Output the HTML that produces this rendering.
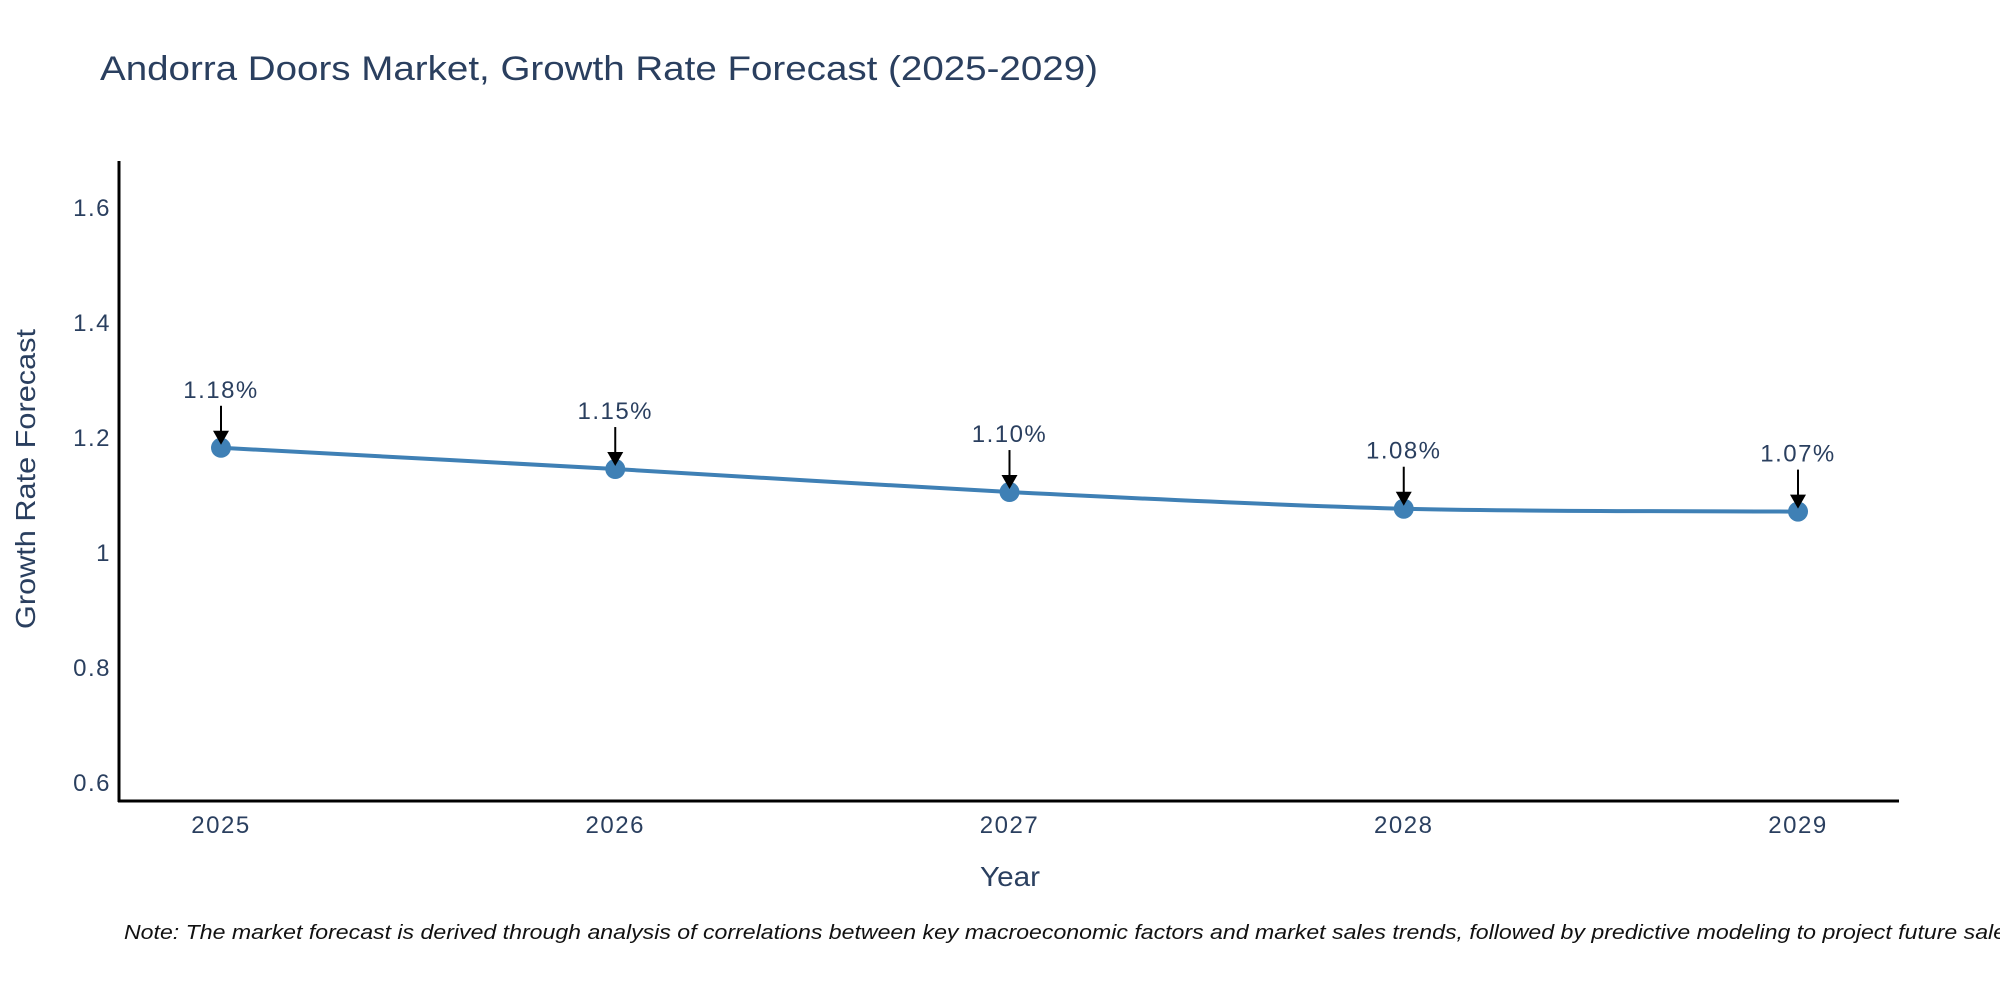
<!DOCTYPE html>
<html><head><meta charset="utf-8"><style>
html,body{margin:0;padding:0;background:#fff;overflow:hidden;}
svg{display:block;font-family:"Liberation Sans",sans-serif;}
</style></head><body>
<svg id="chart" width="2000" height="1000" viewBox="0 0 2000 1000">
<text x="100" y="80" font-size="34" fill="#2a3f5f" textLength="998" lengthAdjust="spacingAndGlyphs">Andorra Doors Market, Growth Rate Forecast (2025-2029)</text>
<g id="yticks"></g>
<g id="xticks"></g>
<g id="series"></g>
<g id="annots"></g>
<line x1="119" y1="161" x2="119" y2="802" stroke="#000" stroke-width="3"/>
<line x1="118" y1="801" x2="1899" y2="801" stroke="#000" stroke-width="3"/>
<text x="1010" y="886" font-size="28" fill="#2a3f5f" text-anchor="middle" textLength="60" lengthAdjust="spacingAndGlyphs">Year</text>
<text transform="translate(35,479) rotate(-90)" font-size="28" fill="#2a3f5f" text-anchor="middle" textLength="300" lengthAdjust="spacingAndGlyphs">Growth Rate Forecast</text>
<text x="124" y="939" font-size="20" font-style="italic" fill="#111" textLength="1900" lengthAdjust="spacingAndGlyphs">Note: The market forecast is derived through analysis of correlations between key macroeconomic factors and market sales trends, followed by predictive modeling to project future sales.</text>
</svg>
<script>
const years = [2025, 2026, 2027, 2028, 2029];
const values = [1.183, 1.146, 1.106, 1.077, 1.072];
const labels = ["1.18%", "1.15%", "1.10%", "1.08%", "1.07%"];
const yTicks = [0.6, 0.8, 1, 1.2, 1.4, 1.6];
const yTickLabels = ["0.6", "0.8", "1", "1.2", "1.4", "1.6"];

const NS = "http://www.w3.org/2000/svg";
function xs(yr){ return 221 + (yr - 2025) * 394.25; }
function ys(v){ return 783 - (v - 0.6) * 575; }
function mk(tag, attrs, parent){
  const e = document.createElementNS(NS, tag);
  for (const k in attrs) e.setAttribute(k, attrs[k]);
  parent.appendChild(e); return e;
}
const yt = document.getElementById('yticks');
yTicks.forEach((v,i)=>{
  const t = mk('text',{x:111,y:ys(v)+8,'font-size':24,'letter-spacing':1.5,fill:'#2a3f5f','text-anchor':'end'},yt);
  
  
  t.textContent = yTickLabels[i];
});
const xt = document.getElementById('xticks');
years.forEach(y=>{
  const t = mk('text',{x:xs(y),y:833,'font-size':24,'letter-spacing':1.5,fill:'#2a3f5f','text-anchor':'middle'},xt);
  
  
  t.textContent = String(y);
});
const s = document.getElementById('series');
const pts = years.map((y,i)=>[xs(y), ys(values[i])]);
let d = 'M' + pts[0][0] + ',' + pts[0][1];
for (let i=1;i<pts.length;i++){
  const p0 = pts[Math.max(0,i-2)], p1 = pts[i-1], p2 = pts[i], p3 = pts[Math.min(pts.length-1,i+1)];
  const k = 0.15;
  const c1x = p1[0] + (p2[0]-p0[0])*k, c1y = p1[1] + (p2[1]-p0[1])*k;
  const c2x = p2[0] - (p3[0]-p1[0])*k, c2y = p2[1] - (p3[1]-p1[1])*k;
  d += ' C' + c1x + ',' + c1y + ' ' + c2x + ',' + c2y + ' ' + p2[0] + ',' + p2[1];
}
const line = mk('path',{d:d,fill:'none',stroke:'#3f80b5','stroke-width':4},s);


pts.forEach(p=>{
  const c = mk('circle',{cx:p[0],cy:p[1],r:10,fill:'#3f80b5'},s);
  
  
});
const a = document.getElementById('annots');
pts.forEach((p,i)=>{
  const ln = mk('line',{x1:p[0],y1:p[1]-42,x2:p[0],y2:p[1]-14,stroke:'#000','stroke-width':2},a);
  
  
  const hd = mk('polygon',{points:(p[0]-8)+','+(p[1]-17)+' '+(p[0]+8)+','+(p[1]-17)+' '+p[0]+','+(p[1]-3),fill:'#000'},a);
  
  
  const t = mk('text',{x:p[0],y:p[1]-50,'font-size':24,'letter-spacing':1.5,fill:'#2a3f5f','text-anchor':'middle'},a);
  
  
  t.textContent = labels[i];
});
</script>
</body></html>
